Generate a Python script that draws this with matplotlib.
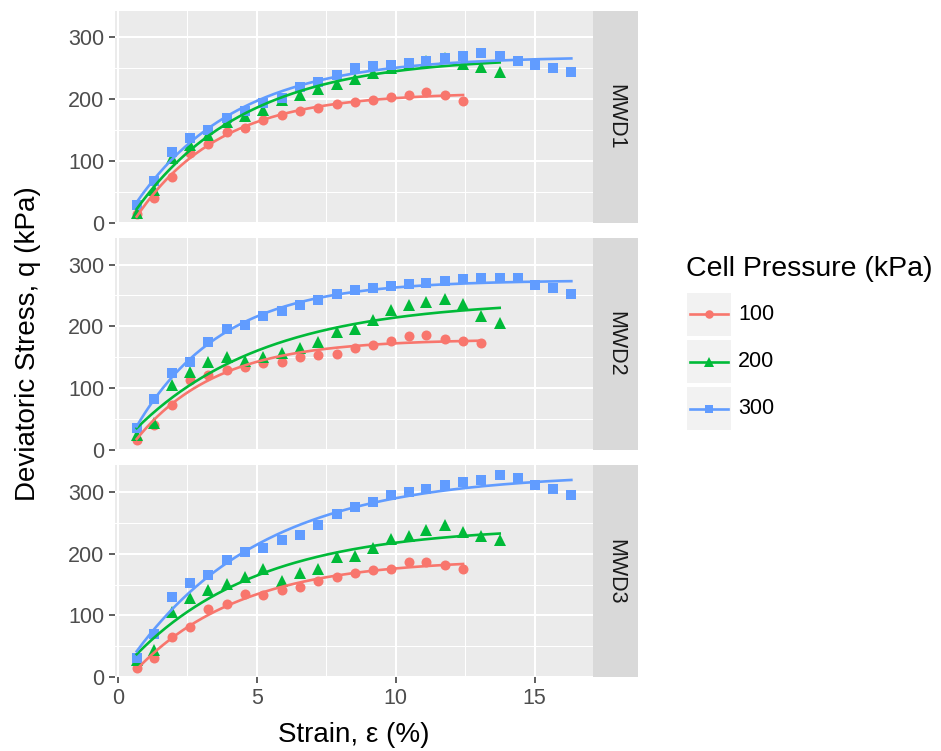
import numpy as np
import matplotlib.pyplot as plt
from matplotlib.patches import Rectangle
from matplotlib.lines import Line2D

plt.rcParams['font.family'] = ['Liberation Sans', 'DejaVu Sans']

# strain readings (%), shared by all tests
strain = [0.67, 1.29, 1.93, 2.59, 3.25, 3.91, 4.57, 5.23, 5.89, 6.55, 7.21,
          7.87, 8.53, 9.18, 9.81, 10.47, 11.1, 11.76, 12.42, 13.08, 13.74,
          14.4, 15.0, 15.66, 16.32]

panels = ['MWD1', 'MWD2', 'MWD3']
pressures = ['100', '200', '300']

# deviatoric stress q (kPa)
mwd1_100 = [14, 40, 74, 112, 127, 146, 153, 166, 175, 181, 185, 192, 195, 199,
            204, 206, 211, 206, 197]
mwd1_200 = [15, 53, 104, 126, 142, 163, 172, 182, 198, 207, 217, 224, 232, 242,
            250, 256, 262, 266, 257, 252, 244]
mwd1_300 = [29, 68, 115, 137, 150, 169, 180, 193, 201, 219, 228, 239, 250, 253,
            255, 258, 262, 266, 270, 274, 269, 261, 255, 251, 244]

mwd2_100 = [16, 41, 73, 113, 122, 130, 135, 141, 143, 150, 154, 155, 165, 170,
            177, 184, 186, 180, 176, 173]
mwd2_200 = [24, 43, 105, 127, 143, 150, 144, 151, 157, 165, 175, 191, 196, 211,
            227, 235, 239, 244, 236, 216, 205]
mwd2_300 = [35, 83, 124, 142, 175, 196, 203, 216, 225, 235, 243, 252, 259, 262,
            266, 269, 270, 274, 276, 278, 278, 278, 267, 262, 252]

mwd3_100 = [15, 32, 65, 82, 110, 118, 135, 133, 142, 146, 155, 163, 169, 173,
            176, 187, 187, 181, 176]
mwd3_200 = [28, 44, 106, 128, 141, 151, 163, 175, 156, 168, 175, 194, 197, 210,
            223, 228, 238, 246, 235, 228, 222]
mwd3_300 = [31, 70, 130, 153, 165, 190, 203, 210, 222, 230, 246, 264, 275, 284,
            295, 300, 304, 311, 316, 320, 327, 322, 311, 304, 295]

series = {
    'MWD1': [mwd1_100, mwd1_200, mwd1_300],
    'MWD2': [mwd2_100, mwd2_200, mwd2_300],
    'MWD3': [mwd3_100, mwd3_200, mwd3_300],
}

colors = ['#F8766D', '#00BA38', '#619CFF']
markers = ['o', '^', 's']
msizes = [7.2, 8.2, 7.4]


def sat_fit(e, q):
    # q = c + a*(1 - exp(-e/b)), b by grid search, c and a by least squares
    best = None
    for b in np.linspace(0.5, 25, 500):
        X = np.column_stack([np.ones_like(e), 1 - np.exp(-e / b)])
        coef = np.linalg.lstsq(X, q, rcond=None)[0]
        sse = np.sum((X @ coef - q) ** 2)
        if best is None or sse < best[0]:
            best = (sse, b, coef)
    _, b, (c, a) = best
    return lambda x: c + a * (1 - np.exp(-x / b))


W, H = 941, 751
fig = plt.figure(figsize=(W / 100, H / 100), dpi=100)


def fx(p):
    return p / W


def fy(p):
    return 1 - p / H


bottoms = [222.7, 450, 677.3]
ph = 212
left, right = 115, 593

for i, name in enumerate(panels):
    ax = fig.add_axes([fx(left), fy(bottoms[i]), fx(right) - fx(left), ph / H])
    ax.set_facecolor('#EBEBEB')
    for s in ax.spines.values():
        s.set_visible(False)
    ax.set_xlim(-0.11, 17.1)
    ax.set_ylim(0, 343)
    ax.set_xticks([0, 5, 10, 15])
    ax.set_xticks([2.5, 7.5, 12.5], minor=True)
    ax.set_yticks([0, 100, 200, 300])
    ax.set_yticks([50, 150, 250], minor=True)
    ax.grid(which='major', color='white', lw=1.5)
    ax.grid(which='minor', color='white', lw=0.75)
    ax.set_axisbelow(True)
    ax.tick_params(which='major', length=4.5, width=1.1, color='#333333',
                   labelcolor='#4D4D4D', labelsize=15.5, pad=3)
    ax.tick_params(which='minor', length=0)
    if i < 2:
        ax.tick_params(axis='x', which='both', length=0, labelbottom=False)

    for q, c, m, ms in zip(series[name], colors, markers, msizes):
        e = np.array(strain[:len(q)])
        qa = np.array(q, dtype=float)
        ax.plot(e, qa, ls='none', marker=m, ms=ms, color=c, mew=0, zorder=3)
        f = sat_fit(e, qa)
        xs = np.linspace(e[0], e[-1], 200)
        ax.plot(xs, f(xs), color=c, lw=1.9, zorder=4)

    # facet strip
    sax = fig.add_axes([fx(right), fy(bottoms[i]), fx(638) - fx(right), ph / H])
    sax.set_facecolor('#D9D9D9')
    sax.set_xticks([])
    sax.set_yticks([])
    for s in sax.spines.values():
        s.set_visible(False)
    sax.text(0.5, 0.5, name, rotation=-90, ha='center', va='center',
             fontsize=15.5, color='#1A1A1A', transform=sax.transAxes)

fig.text(fx(354), fy(735), 'Strain, ε (%)', ha='center', va='center',
         fontsize=20)
fig.text(fx(28), fy(344), 'Deviatoric Stress, q (kPa)', ha='center',
         va='center', rotation=90, fontsize=20)

# legend
fig.text(fx(686), fy(269), 'Cell Pressure (kPa)', ha='left', va='center',
         fontsize=20.5)
key_tops = [293, 340, 387]
for top, lab, c, m, ms in zip(key_tops, pressures, colors, markers, msizes):
    fig.add_artist(Rectangle((fx(687), fy(top + 43)), fx(44), 43 / H,
                             transform=fig.transFigure, fc='#F2F2F2', ec='none'))
    yc = fy(top + 21.5)
    fig.add_artist(Line2D([fx(690), fx(728)], [yc, yc], color=c, lw=1.9,
                          transform=fig.transFigure))
    fig.add_artist(Line2D([fx(709)], [yc], ls='none', marker=m, ms=ms * 0.85,
                          mew=0, color=c, transform=fig.transFigure))
    fig.text(fx(738), yc, lab, ha='left', va='center', fontsize=15.5)

fig.savefig('out.png', dpi=100)
